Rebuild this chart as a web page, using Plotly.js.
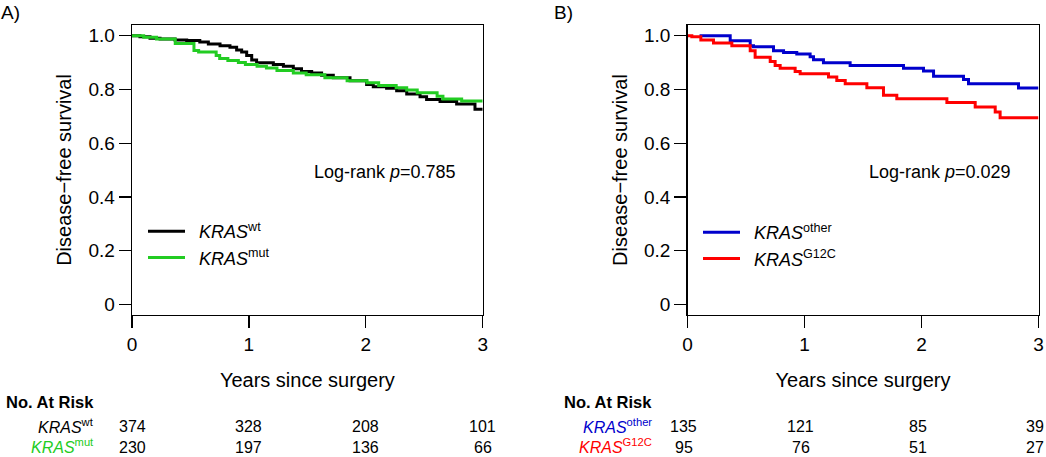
<!DOCTYPE html>
<html>
<head>
<meta charset="utf-8">
<script src="https://cdn.plot.ly/plotly-3.0.1.min.js"></script>
<style>
  html, body { margin: 0; padding: 0; background: #ffffff; }
  #chart { width: 1046px; height: 457px; }
</style>
</head>
<body>
<div id="chart"></div>
<script>
// ---------------- data ----------------
// Panel A: KRAS wild-type vs mutant, Kaplan-Meier step curves
var wtTime = [0, 0.068, 0.154, 0.24, 0.368, 0.468, 0.58, 0.653, 0.753, 0.838, 0.895, 0.938, 0.981, 1.024, 1.066, 1.209, 1.295, 1.38, 1.45, 1.537, 1.622, 1.722, 1.865, 2.007, 2.064, 2.178, 2.264, 2.35, 2.464, 2.52, 2.635, 2.777, 2.934, 3.0];
var wtSurv = [1.0, 0.996, 0.991, 0.988, 0.984, 0.982, 0.977, 0.969, 0.963, 0.957, 0.947, 0.939, 0.926, 0.910, 0.899, 0.893, 0.886, 0.877, 0.867, 0.861, 0.853, 0.844, 0.832, 0.818, 0.810, 0.804, 0.795, 0.783, 0.773, 0.763, 0.755, 0.746, 0.726, 0.726];

var mutTime = [0, 0.10, 0.21, 0.37, 0.53, 0.57, 0.72, 0.75, 0.82, 0.91, 0.97, 1.07, 1.15, 1.24, 1.38, 1.49, 1.65, 1.84, 2.01, 2.11, 2.26, 2.35, 2.44, 2.61, 2.66, 2.82, 3.0];
var mutSurv = [1.0, 0.994, 0.988, 0.971, 0.945, 0.939, 0.926, 0.915, 0.908, 0.900, 0.893, 0.886, 0.880, 0.871, 0.861, 0.855, 0.844, 0.832, 0.825, 0.815, 0.806, 0.798, 0.788, 0.775, 0.764, 0.757, 0.757];

// Panel B: KRAS other vs G12C
var otherTime = [0.103, 0.365, 0.536, 0.564, 0.735, 0.821, 0.934, 1.048, 1.077, 1.162, 1.390, 1.846, 2.017, 2.103, 2.359, 2.402, 2.829, 3.0];
var otherSurv = [1.0, 0.981, 0.963, 0.959, 0.944, 0.938, 0.932, 0.922, 0.911, 0.899, 0.889, 0.879, 0.869, 0.849, 0.837, 0.821, 0.805, 0.805];

var g12cTime = [0, 0.037, 0.114, 0.222, 0.379, 0.536, 0.578, 0.707, 0.749, 0.792, 0.920, 0.963, 1.205, 1.276, 1.348, 1.533, 1.675, 1.789, 2.217, 2.459, 2.630, 2.672, 3.0];
var g12cSurv = [1.0, 0.996, 0.984, 0.973, 0.963, 0.944, 0.920, 0.904, 0.889, 0.879, 0.867, 0.858, 0.846, 0.833, 0.821, 0.806, 0.778, 0.765, 0.751, 0.735, 0.716, 0.695, 0.695];

// Axis ticks
var xTickVals = [0, 1, 2, 3];
var yTickVals = [0, 0.2, 0.4, 0.6, 0.8, 1.0];
var yTickText = ['0', '0.2', '0.4', '0.6', '0.8', '1.0'];

// Number at risk tables
var riskYears = [0, 1, 2, 3];
var wtRisk = [374, 328, 208, 101];
var mutRisk = [230, 197, 136, 66];
var otherRisk = [135, 121, 85, 39];
var g12cRisk = [95, 76, 51, 27];

// Labels
var pValA = 'Log-rank <i>p</i>=0.785';
var pValB = 'Log-rank <i>p</i>=0.029';
var nameWt = '<i>KRAS</i><sup>wt</sup>';
var nameMut = '<i>KRAS</i><sup>mut</sup>';
var nameOther = '<i>KRAS</i><sup>other</sup>';
var nameG12c = '<i>KRAS</i><sup>G12C</sup>';

// ---------------- styling ----------------
var FONT = 'Arial, "Liberation Sans", Helvetica, sans-serif';
var W = 1046, H = 457;
function px(x) { return x / W; }
function py(y) { return 1 - y / H; }

var colWt = '#000000', colMut = '#22cc22', colOther = '#0000cc', colG12c = '#ff0000';
var LEG_GAP = '\u2002'; // small gap between legend line and label

function kmTrace(t, s, name, color, xa, ya, leg) {
  return {
    x: t, y: s, name: LEG_GAP + name, type: 'scatter', mode: 'lines',
    line: { color: color, width: 3, shape: 'hv' },
    xaxis: xa, yaxis: ya, legend: leg, hoverinfo: 'skip'
  };
}

var traces = [
  kmTrace(wtTime, wtSurv, nameWt, colWt, 'x', 'y', 'legend'),
  kmTrace(mutTime, mutSurv, nameMut, colMut, 'x', 'y', 'legend'),
  kmTrace(otherTime, otherSurv, nameOther, colOther, 'x2', 'y2', 'legend2'),
  kmTrace(g12cTime, g12cSurv, nameG12c, colG12c, 'x2', 'y2', 'legend2')
];

function xAxis(domain, anchor) {
  return {
    domain: domain, anchor: anchor, range: [0, 3], tickvals: xTickVals,
    ticks: 'outside', ticklen: 12, tickwidth: 1.3, tickcolor: '#000',
    showline: true, mirror: true, linecolor: '#000', linewidth: 1.3,
    showgrid: false, zeroline: false, fixedrange: true,
    tickfont: { family: FONT, size: 19, color: '#000' },
    title: { text: 'Years since surgery', standoff: 19, font: { family: FONT, size: 20, color: '#000' } }
  };
}
function yAxis(domain, anchor) {
  return {
    domain: domain, anchor: anchor, range: [-0.04, 1.04],
    tickvals: yTickVals, ticktext: yTickText,
    ticks: 'outside', ticklen: 12, tickwidth: 1.3, tickcolor: '#000',
    showline: true, mirror: true, linecolor: '#000', linewidth: 1.3,
    showgrid: false, zeroline: false, fixedrange: true,
    tickfont: { family: FONT, size: 19, color: '#000' },
    title: { text: 'Disease\u2212free survival', standoff: 11, font: { family: FONT, size: 20, color: '#000' } }
  };
}

var yDom = [py(315), py(25)];

var annotations = [];
function addText(text, x, y, xanchor, size, color, xref, opts) {
  opts = opts || {};
  annotations.push({
    text: opts.bold ? '<b>' + text + '</b>' : text,
    x: x, y: y, xref: xref || 'paper', yref: 'paper',
    xanchor: xanchor, yanchor: opts.yanchor || 'middle', showarrow: false,
    xshift: opts.xshift || 0, borderpad: 0,
    font: { family: FONT, size: size, color: color || '#000' }
  });
}

// Panel letters
addText('A)', px(0), py(12), 'left', 19);
addText('B)', px(553), py(12), 'left', 19);
// p-values
addText(pValA, px(313), py(172), 'left', 18);
addText(pValB, px(868), py(172), 'left', 18);

// At-risk tables
var ROW1 = py(426), ROW2 = 0;
var lastRow = { yanchor: 'bottom' };
addText('No. At Risk', px(5), py(402), 'left', 16.5, '#000', 'paper', { bold: true });
addText('No. At Risk', px(563), py(402), 'left', 16.5, '#000', 'paper', { bold: true });
addText(nameWt, px(95), ROW1, 'right', 16, colWt);
addText(nameMut, px(95), ROW2, 'right', 16, colMut, 'paper', lastRow);
addText(nameOther, px(653), ROW1, 'right', 16, colOther);
addText(nameG12c, px(653), ROW2, 'right', 16, colG12c, 'paper', lastRow);
riskYears.forEach(function (yr, i) {
  addText(String(wtRisk[i]), yr, ROW1, 'center', 16, '#000', 'x');
  addText(String(mutRisk[i]), yr, ROW2, 'center', 16, '#000', 'x', lastRow);
  addText(String(otherRisk[i]), yr, ROW1, 'center', 16, '#000', 'x2', { xshift: -4 });
  addText(String(g12cRisk[i]), yr, ROW2, 'center', 16, '#000', 'x2', { xshift: -4, yanchor: 'bottom' });
});

function legendAt(xpx, ypx) {
  return {
    x: px(xpx), y: py(ypx), xanchor: 'left', yanchor: 'top',
    bgcolor: 'rgba(0,0,0,0)', borderwidth: 0, itemwidth: 37,
    font: { family: FONT, size: 18, color: '#000' },
    tracegroupgap: 0, itemclick: false, itemdoubleclick: false
  };
}

var layout = {
  width: W, height: H,
  margin: { l: 0, r: 0, t: 0, b: 0 },
  paper_bgcolor: '#ffffff', plot_bgcolor: '#ffffff',
  font: { family: FONT, color: '#000' },
  showlegend: true,
  xaxis: xAxis([px(132), px(482.7)], 'y'),
  yaxis: yAxis(yDom, 'x'),
  xaxis2: xAxis([px(687.5), px(1038.5)], 'y2'),
  yaxis2: yAxis(yDom, 'x2'),
  legend: legendAt(143, 213),
  legend2: legendAt(698, 214),
  annotations: annotations
};

Plotly.newPlot('chart', traces, layout, { displayModeBar: false, staticPlot: true });
</script>
</body>
</html>
